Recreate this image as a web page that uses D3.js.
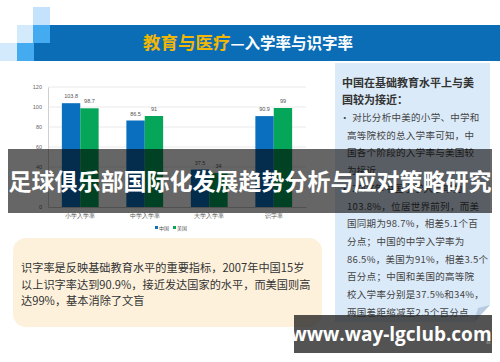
<!DOCTYPE html>
<meta charset="utf-8">
<head>
    <title>教育与医疗</title>
</head>
<style>
    body { margin: 0; background: #fff; }
    svg { display: block; font-family: "Noto Sans CJK SC", "Noto Sans", sans-serif; }
</style>
<div id="chart"></div>
<script src="https://d3js.org/d3.v7.min.js"></script>
<script>

    // values
    var categories = ["小学入学率", "中学入学率", "大学入学率", "识字率"];
    var seriesNames = ["中国", "美国"];
    var chinaValues = [103.8, 86.5, 37.5, 90.9];
    var usValues = [98.7, 91, 34, 99];
    var yTicks = [0, 20, 40, 60, 80, 100, 120];

    var noteLines = [
        "识字率是反映基础教育水平的重要指标，2007年中国15岁",
        "以上识字率达到90.9%，接近发达国家的水平，而美国则高",
        "达99%，基本消除了文盲"
    ];
    var sideHead = ["中国在基础教育水平上与美", "国较为接近："];
    var sideLines = [
        "• 对比分析中美的小学、中学和",
        "高等院校的总入学率可知，中",
        "国各个阶段的入学率与美国较",
        "为接近",
        "• 2007年中国小学入学率为",
        "103.8%，位居世界前列，而美",
        "国同期为98.7%，相差5.1个百",
        "分点；中国的中学入学率为",
        "86.5%，美国为91%，相差3.5个",
        "百分点；中国和美国的高等院",
        "校入学率分别是37.5%和34%，",
        "两国差距缩减至2.5个百分点"
    ];

    var colors = ["#0a6fbe", "#05a55a"];

    var svg = d3.select("#chart")
      .append("svg")
        .attr("width", 500)
        .attr("height", 362);

    // header band with little squares
    var squares = [
        {x: 33, y: 7, c: "#c4e2fb"},
        {x: 17, y: 25, c: "#d2eafc"},
        {x: 33, y: 25, c: "#45abf1"},
        {x: 0, y: 43, c: "#d2eafc"},
        {x: 17, y: 43, c: "#45abf1"}
    ];
    svg.append("rect").attr("x", 50).attr("y", 25).attr("width", 450).attr("height", 18).attr("fill", "#0a6db6");
    svg.append("rect").attr("x", 33).attr("y", 43).attr("width", 467).attr("height", 18).attr("fill", "#0a6db6");
    svg.selectAll(".sq").data(squares).enter().append("rect")
        .attr("x", function(d) { return d.x; })
        .attr("y", function(d) { return d.y; })
        .attr("width", 17).attr("height", 18)
        .attr("fill", function(d) { return d.c; });

    var title = svg.append("text")
        .attr("x", 143).attr("y", 49)
        .attr("font-weight", "bold");
    title.append("tspan").attr("fill", "#f2b705").attr("font-size", 17.5).text("教育与医疗");
    title.append("tspan").attr("fill", "#fff").attr("font-size", 15.5).text("—入学率与识字率");

    // bar chart
    var margin = {top: 87, left: 48},
        width = 258,
        height = 120;

    var g = svg.append("g")
        .attr("transform", "translate(" + margin.left + "," + margin.top + ")");

    var x = d3.scaleBand()
        .domain(categories)
        .range([0, width])
        .paddingInner(0.43)
        .paddingOuter(0.215);

    var x1 = d3.scaleBand()
        .domain(seriesNames)
        .range([0, x.bandwidth()]);

    var y = d3.scaleLinear()
        .domain([0, 120])
        .range([height, 0]);

    g.append("g")
        .selectAll("line")
        .data(yTicks.slice(1))
        .enter().append("line")
        .attr("x1", 0).attr("x2", width)
        .attr("y1", function(d) { return y(d); })
        .attr("y2", function(d) { return y(d); })
        .attr("stroke", "#e4e4e4")
        .attr("stroke-width", 0.8);

    var yAxis = g.append("g")
        .call(d3.axisLeft(y).tickValues(yTicks).tickSize(0).tickPadding(6));
    yAxis.select(".domain").attr("stroke", "#d0d0d0");
    yAxis.selectAll("text").attr("font-size", 5.5).attr("fill", "#666").attr("font-family", "Liberation Sans, sans-serif");

    var xAxis = g.append("g")
        .attr("transform", "translate(0," + height + ")")
        .call(d3.axisBottom(x).tickSize(0).tickPadding(7));
    xAxis.select(".domain").attr("stroke", "#c8c8c8");
    xAxis.selectAll("text").attr("font-size", 5.5).attr("fill", "#555");

    var series = [chinaValues, usValues];
    series.forEach(function(vals, si) {
        var grp = g.append("g");
        grp.selectAll("rect")
            .data(vals)
            .enter().append("rect")
            .attr("x", function(d, i) { return x(categories[i]) + x1(seriesNames[si]); })
            .attr("y", function(d) { return y(d); })
            .attr("width", x1.bandwidth())
            .attr("height", function(d) { return height - y(d); })
            .attr("fill", colors[si]);
        grp.selectAll("text")
            .data(vals)
            .enter().append("text")
            .attr("x", function(d, i) { return x(categories[i]) + x1(seriesNames[si]) + x1.bandwidth() / 2; })
            .attr("y", function(d) { return y(d) - 5; })
            .attr("text-anchor", "middle")
            .attr("font-size", 5.5)
            .attr("font-family", "Liberation Sans, sans-serif")
            .attr("fill", "#555")
            .text(function(d) { return d; });
    });

    // legend
    var legend = svg.append("g").attr("transform", "translate(155,228)");
    seriesNames.forEach(function(n, i) {
        legend.append("rect").attr("x", i * 18).attr("y", -2).attr("width", 3).attr("height", 3).attr("fill", colors[i]);
        legend.append("text").attr("x", i * 18 + 4).attr("y", 1.8).attr("font-size", 5).attr("fill", "#555").text(n);
    });

    // side note box
    svg.append("path")
        .attr("d", "M335,63 H490 V305 L474,322 H335 Z")
        .attr("fill", "#dbeaf8");
    svg.append("path")
        .attr("d", "M490,305 L474,322 L478,308 Z")
        .attr("fill", "#b8cbe0");
    svg.selectAll(".sh").data(sideHead).enter().append("text")
        .attr("x", 342)
        .attr("y", function(d, i) { return 87 + i * 17; })
        .attr("font-size", 11)
        .attr("font-weight", "bold")
        .attr("fill", "#333")
        .text(function(d) { return d; });
    svg.selectAll(".sl").data(sideLines).enter().append("text")
        .attr("x", function(d) { return d.charAt(0) === "•" ? 340 : 347; })
        .attr("y", function(d, i) { return 121 + i * 17.7; })
        .attr("font-size", 9.5)
        .attr("fill", "#444")
        .attr("letter-spacing", 0.3)
        .text(function(d) { return d; });

    // bottom note box
    svg.append("rect")
        .attr("x", 13).attr("y", 238)
        .attr("width", 309).attr("height", 89)
        .attr("rx", 13)
        .attr("fill", "#fdf1dc");
    svg.selectAll(".nl").data(noteLines).enter().append("text")
        .attr("x", 21)
        .attr("y", function(d, i) { return 272 + i * 16.5; })
        .attr("font-size", 11.2)
        .attr("fill", "#333")
        .text(function(d) { return d; });

    // banner overlay
    svg.append("rect")
        .attr("x", 8).attr("y", 149)
        .attr("width", 484).attr("height", 64)
        .attr("fill", "rgba(0,0,0,0.6)");
    svg.append("text")
        .attr("x", 250).attr("y", 190)
        .attr("text-anchor", "middle")
        .attr("font-size", 23)
        .attr("font-weight", "bold")
        .attr("fill", "#fff")
        .text("足球俱乐部国际化发展趋势分析与应对策略研究");

    // site mark
    svg.append("rect")
        .attr("x", 294).attr("y", 315)
        .attr("width", 198).attr("height", 38)
        .attr("fill", "rgba(40,40,40,0.8)");
    svg.append("text")
        .attr("x", 391).attr("y", 341)
        .attr("text-anchor", "middle")
        .attr("font-size", 19)
        .attr("font-weight", "bold")
        .attr("font-family", "Open Sans, sans-serif")
        .attr("fill", "#fff")
        .text("www.way-lgclub.com");
    svg.append("text")
        .attr("x", 486).attr("y", 344)
        .attr("font-size", 4)
        .attr("fill", "#aaa")
        .text("46");
</script>
